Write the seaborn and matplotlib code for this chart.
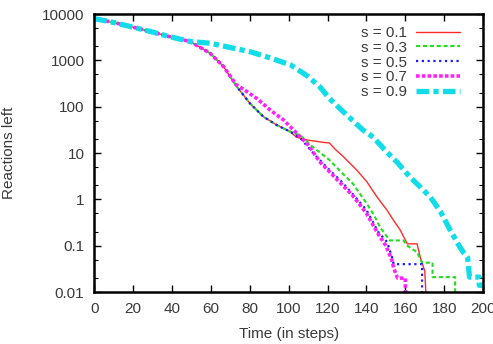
import numpy as np
import pandas as pd
import matplotlib
matplotlib.use("Agg")
import matplotlib.pyplot as plt
import matplotlib.ticker as mticker
import seaborn as sns

# Series data (time in steps, reactions left)
t_s01 = [0, 10, 18.5, 30, 39, 49.4, 59.6, 66.5, 73.4, 80.2, 87, 94, 100.8, 104, 110, 118, 121, 124,
         128.2, 135, 140.2, 145.3, 150.5, 154, 157.3, 161, 166, 167.6, 170, 171.7]
n_s01 = [8000, 6600, 5400, 4100, 3240, 2560, 1430, 740, 270, 117, 61, 40, 29, 22, 19, 17, 16.5, 12,
         8.3, 4.3, 2.4, 1.15, 0.59, 0.35, 0.22, 0.11, 0.11, 0.058, 0.028, 0.001]

t_s03 = [0, 10, 18.5, 30, 39, 49.4, 59.6, 66.5, 73.4, 80.2, 87, 94, 100.8, 106, 112, 121, 126, 133,
         140, 144, 147, 152, 159, 161, 166, 168.6, 174, 174, 185.6, 185.6]
n_s03 = [8000, 6600, 5400, 4100, 3240, 2560, 1430, 740, 270, 117, 61, 40, 29, 24, 14, 7.1, 4.3, 2.2,
         0.83, 0.45, 0.25, 0.13, 0.13, 0.1, 0.073, 0.043, 0.043, 0.021, 0.021, 0.001]

t_s05 = [0, 10, 18.5, 30, 39, 49.4, 59.6, 66.5, 73.4, 80.2, 87, 94, 100.8, 106, 111, 116, 121, 126.5,
         133, 140, 146, 150.6, 153, 154, 168.6, 168.6]
n_s05 = [8000, 6600, 5400, 4100, 3240, 2560, 1430, 740, 270, 117, 61, 40, 29, 21, 12, 7.1, 4.3, 2.6,
         1.3, 0.59, 0.2, 0.12, 0.06, 0.04, 0.04, 0.001]

t_s07 = [0, 10, 18.5, 30, 39, 49.4, 59.6, 66.5, 73, 76.7, 83.7, 90.5, 97.3, 103, 110, 116, 126, 133,
         140, 146, 150, 153, 154, 156, 160, 160]
n_s07 = [8000, 6600, 5400, 4100, 3240, 2560, 1430, 740, 300, 240, 150, 85, 52, 30, 15, 6.5, 2.4, 1.2,
         0.5, 0.18, 0.1, 0.05, 0.033, 0.02, 0.02, 0.001]

t_s09 = [0, 10, 18.5, 30, 39, 49.4, 59.6, 70, 80, 90, 101, 110, 116, 121, 126.5, 138, 143.5, 150,
         156, 162.5, 168, 173, 178, 183, 188, 190, 192, 193, 198, 198, 200]
n_s09 = [8000, 6600, 5400, 4100, 3240, 2560, 2350, 1900, 1550, 1150, 800, 450, 270, 150, 90, 32, 22, 11,
         6.2, 3, 1.8, 1.1, 0.55, 0.22, 0.094, 0.07, 0.055, 0.021, 0.021, 0.014, 0.014]

labels = ["s = 0.1", "s = 0.3", "s = 0.5", "s = 0.7", "s = 0.9"]
times = [t_s01, t_s03, t_s05, t_s07, t_s09]
counts = [n_s01, n_s03, n_s05, n_s07, n_s09]

# Line looks (gnuplot style)
colors = ["#ff2a2a", "#22dd22", "#1a1aff", "#ff22ff", "#11dde8"]
widths = [1.0, 1.5, 1.6, 2.6, 3.8]
dashes = [None, (2.0, 1.3), (1.0, 1.6), (1.0, 0.6), (2.4, 0.8, 1.0, 0.8)]

sns.set_theme(style="ticks")
plt.rcParams["font.family"] = ["Liberation Sans", "DejaVu Sans"]
plt.rcParams["font.size"] = 11
text_color = "#3a3a3a"

fig = plt.figure(figsize=(4.93, 3.44), dpi=100)
ax = fig.add_axes([0.191, 0.151, 0.789, 0.808])

for lab, t, n, c, w, d in zip(labels, times, counts, colors, widths, dashes):
    df = pd.DataFrame({"Time": t, "Reactions": n})
    sns.lineplot(data=df, x="Time", y="Reactions", ax=ax, estimator=None, sort=False,
                 color=c, linewidth=w, label=lab)
    if d is not None:
        ax.lines[-1].set_dashes(d)

ax.set_yscale("log")
ax.set_xlim(0, 200)
ax.set_ylim(0.01, 10000)
ax.set_xticks(np.arange(0, 201, 20))
ax.yaxis.set_minor_locator(mticker.LogLocator(base=10, subs=(2.0, 5.0), numticks=20))
ax.yaxis.set_minor_formatter(mticker.NullFormatter())
ax.set_yticks([0.01, 0.1, 1, 10, 100, 1000, 10000])
ax.set_yticklabels(["0.01", "0.1", "1", "10", "100", "1000", "10000"])

ax.tick_params(axis="both", which="both", direction="in", top=True, right=True,
               labelsize=11, labelcolor=text_color, color="black")
ax.tick_params(axis="both", which="major", length=5, width=1, pad=7)
ax.tick_params(axis="y", which="minor", length=3, width=0.8)
for sp in ax.spines.values():
    sp.set_linewidth(1.8)
    sp.set_color("black")

ax.set_xlabel("Time (in steps)", fontsize=11, color=text_color, labelpad=8)
ax.set_ylabel("Reactions left", fontsize=11, color=text_color, labelpad=19)

leg = ax.legend(loc="upper right", bbox_to_anchor=(0.965, 0.99), frameon=False,
                markerfirst=False, handlelength=2.9, handletextpad=0.6,
                labelspacing=0.05, borderaxespad=0.2, fontsize=11)
for txt in leg.get_texts():
    txt.set_color(text_color)

fig.savefig("out.png", dpi=100)
